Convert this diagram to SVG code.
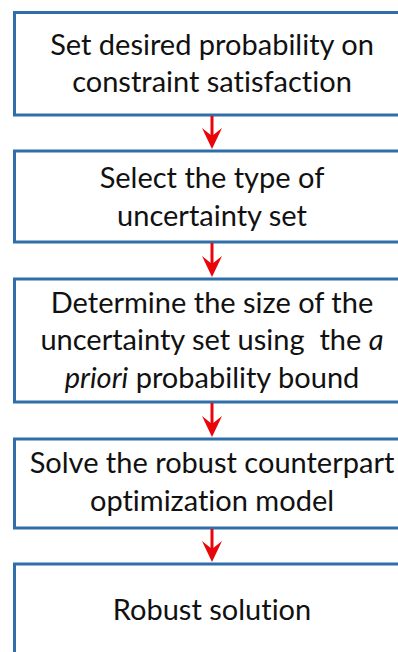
<svg xmlns="http://www.w3.org/2000/svg" width="398" height="652" viewBox="0 0 398 652">
<style>
.box{fill:#fff;stroke:#2f6ea8;stroke-width:3}
.t{font-family:Lato,"Open Sans",sans-serif;font-size:29px;fill:#111;text-anchor:middle;font-variant-ligatures:none;font-feature-settings:"liga" 0,"dlig" 0}
.arr{stroke:#e8060a;stroke-width:3;fill:none}
.head{fill:#e8060a}
</style>
<defs>
<g id="ah"><path class="head" d="M-10,-21 L0,-13 L10,-21 L0,0 Z"/></g>
</defs>
<g id="n1"><rect class="box" x="14.5" y="12.5" width="400" height="102.5"/>
<text class="t" x="212" y="55">Set desired probability on</text>
<text class="t" x="212" y="92">constraint satisfaction</text></g>
<g id="n2"><rect class="box" x="14.5" y="151" width="400" height="91"/>
<text class="t" x="212" y="188">Select the type of</text>
<text class="t" x="212" y="226">uncertainty set</text></g>
<g id="n3"><rect class="box" x="14.5" y="279" width="400" height="123"/>
<text class="t" x="212" y="313">Determine the size of the</text>
<text class="t" x="212" y="350" xml:space="preserve">uncertainty set using  the <tspan font-style="italic">a</tspan></text>
<text class="t" x="212" y="388"><tspan font-style="italic">priori</tspan> probability bound</text></g>
<g id="n4"><rect class="box" x="14.5" y="439" width="400" height="89"/>
<text class="t" x="212" y="473">Solve the robust counterpart</text>
<text class="t" x="212" y="511">optimization model</text></g>
<g id="n5"><rect class="box" x="14.5" y="564" width="400" height="120"/>
<text class="t" x="212" y="620">Robust solution</text></g>
<g id="connectors">
<line class="arr" x1="212" y1="116" x2="212" y2="140"/><use href="#ah" x="212" y="149"/>
<line class="arr" x1="212" y1="243" x2="212" y2="268"/><use href="#ah" x="212" y="277"/>
<line class="arr" x1="212" y1="403" x2="212" y2="428"/><use href="#ah" x="212" y="437"/>
<line class="arr" x1="212" y1="529" x2="212" y2="553"/><use href="#ah" x="212" y="562"/>
</g>
</svg>
